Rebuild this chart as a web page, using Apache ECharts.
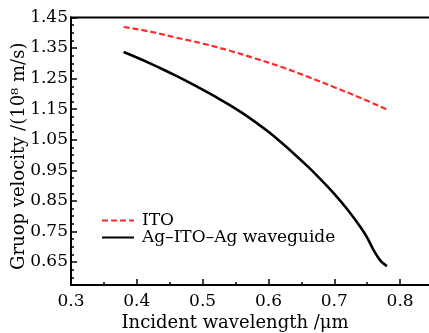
<!DOCTYPE html>
<html>
<head>
<meta charset="utf-8">
<script src="https://cdn.jsdelivr.net/npm/echarts@6/dist/echarts.min.js"></script>
<style>
  html, body { margin: 0; padding: 0; background: #fff; }
  #chart { width: 429px; height: 333px; }
</style>
</head>
<body>
<div id="chart"></div>
<script>
// wavelength (um) / group velocity (1e8 m/s)
const wlIto = [0.38, 0.42, 0.46, 0.50, 0.54, 0.58, 0.62, 0.66, 0.70, 0.74, 0.78];
const vIto = [1.419, 1.404, 1.384, 1.365, 1.342, 1.316, 1.288, 1.256, 1.222, 1.187, 1.149];

const wlWg = [0.38, 0.40, 0.42, 0.44, 0.46, 0.48, 0.50, 0.52, 0.54, 0.56, 0.58, 0.60,
  0.62, 0.64, 0.66, 0.68, 0.70, 0.72, 0.74, 0.75, 0.76, 0.77, 0.78];
const vWg = [1.337, 1.319, 1.300, 1.280, 1.259, 1.237, 1.214, 1.190, 1.165, 1.138, 1.108, 1.076,
  1.040, 1.002, 0.962, 0.919, 0.873, 0.822, 0.764, 0.730, 0.688, 0.655, 0.637];

const xMajor = [0.3, 0.4, 0.5, 0.6, 0.7, 0.8];
const xMinor = [0.35, 0.45, 0.55, 0.65, 0.75];
const yMajor = [0.65, 0.75, 0.85, 0.95, 1.05, 1.15, 1.25, 1.35, 1.45];
const yMinor = [0.575, 0.6, 0.625, 0.675, 0.7, 0.725, 0.775, 0.8, 0.825, 0.875, 0.9, 0.925,
  0.975, 1.0, 1.025, 1.075, 1.1, 1.125, 1.175, 1.2, 1.225, 1.275, 1.3, 1.325, 1.375, 1.4, 1.425];

const FONT = 'DejaVu Serif';
const pair = (xs, ys) => xs.map((x, i) => [x, ys[i]]);

const chart = echarts.init(document.getElementById('chart'));
chart.setOption({
  animation: false,
  textStyle: { fontFamily: FONT, color: '#000' },
  grid: {
    left: 71, top: 17.5, right: -4, bottom: 48,
    outerBoundsMode: 'none', containLabel: false,
    show: true, borderColor: '#000', borderWidth: 2
  },
  legend: {
    orient: 'vertical',
    left: 101, top: 212, padding: 0,
    itemWidth: 32, itemHeight: 13, itemGap: 0,
    itemStyle: { opacity: 0 },
    textStyle: { fontFamily: FONT, fontSize: 17, lineHeight: 15, color: '#000', padding: [0, 0, 0, 3] },
    data: ['ITO', 'Ag–ITO–Ag waveguide']
  },
  xAxis: [
    {
      type: 'value', min: 0.3, max: 0.85,
      name: 'Incident wavelength /μm', nameLocation: 'middle', nameGap: 29, nameMoveOverlap: false,
      nameTextStyle: { fontFamily: FONT, fontSize: 18, color: '#000', padding: [0, 34, 0, 0] },
      axisLine: { lineStyle: { color: '#000', width: 2 } },
      axisTick: { inside: true, length: 6, customValues: xMajor, lineStyle: { color: '#000', width: 1.5 } },
      axisLabel: { customValues: xMajor, margin: 8, fontFamily: FONT, fontSize: 17, color: '#000',
        formatter: v => v.toFixed(1) },
      splitLine: { show: false }
    },
    {
      type: 'value', min: 0.3, max: 0.85, position: 'bottom',
      axisLine: { show: false },
      axisTick: { inside: true, length: 3, customValues: xMinor, lineStyle: { color: '#000', width: 1.5 } },
      axisLabel: { show: false },
      splitLine: { show: false }
    }
  ],
  yAxis: [
    {
      type: 'value', min: 0.575, max: 1.45,
      name: 'Gruop velocity /(10⁸ m/s)', nameLocation: 'middle', nameGap: 43, nameMoveOverlap: false,
      nameTextStyle: { fontFamily: FONT, fontSize: 18, color: '#000', padding: [0, 10, 0, 0] },
      axisLine: { lineStyle: { color: '#000', width: 2 } },
      axisTick: { inside: true, length: 6, customValues: yMajor, lineStyle: { color: '#000', width: 1.5 } },
      axisLabel: { customValues: yMajor, margin: 3, fontFamily: FONT, fontSize: 17, color: '#000',
        formatter: v => v.toFixed(2) },
      splitLine: { show: false }
    },
    {
      type: 'value', min: 0.575, max: 1.45, position: 'left',
      axisLine: { show: false },
      axisTick: { inside: true, length: 3, customValues: yMinor, lineStyle: { color: '#000', width: 1.5 } },
      axisLabel: { show: false },
      splitLine: { show: false }
    }
  ],
  series: [
    {
      name: 'ITO', type: 'line', showSymbol: false, symbol: 'none', smooth: 0.4,
      data: pair(wlIto, vIto),
      lineStyle: { color: '#ff2a2a', width: 2.2, type: [6, 3] },
      itemStyle: { color: '#ff2a2a' }
    },
    {
      name: 'Ag–ITO–Ag waveguide', type: 'line', showSymbol: false, symbol: 'none', smooth: 0.4,
      data: pair(wlWg, vWg),
      lineStyle: { color: '#000', width: 2.6 },
      itemStyle: { color: '#000' }
    }
  ]
});
</script>
</body>
</html>
